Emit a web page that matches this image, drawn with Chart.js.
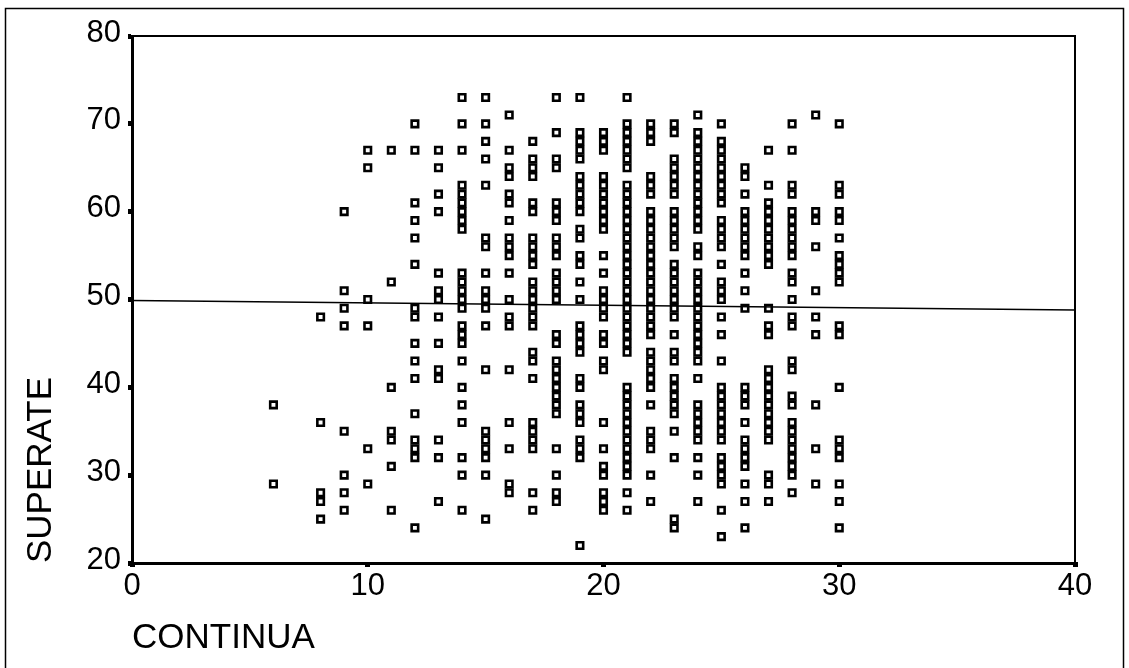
<!DOCTYPE html>
<html>
<head>
<meta charset="utf-8">
<script src="https://cdn.jsdelivr.net/npm/chart.js@4/dist/chart.umd.min.js"></script>
<style>
  html, body { margin: 0; padding: 0; background: #fff; }
  #wrap { width: 1129px; height: 668px; }
</style>
</head>
<body>
<div id="wrap"><canvas id="scatter" width="1129" height="668"></canvas></div>
<script>
// CONTINUA values present, and the SUPERATE scores seen at each one
const continua = [6, 8, 9, 10, 11, 12, 13, 14, 15, 16, 17, 18, 19, 20, 21, 22, 23, 24, 25, 26, 27, 28, 29, 30];
const superate = [
  [38, 29],
  [48, 36, 28, 27, 25],
  [60, 51, 49, 47, 35, 30, 28, 26],
  [67, 65, 50, 47, 33, 29],
  [67, 52, 40, 35, 34, 31, 26],
  [70, 67, 61, 59, 57, 54, 49, 48, 45, 43, 41, 37, 34, 33, 32, 24],
  [67, 65, 62, 60, 53, 51, 50, 48, 45, 42, 41, 34, 32, 27],
  [73, 70, 67, 63, 62, 61, 60, 59, 58, 53, 52, 51, 50, 49, 47, 46, 45, 43, 40, 38, 36, 32, 30, 26],
  [73, 70, 68, 66, 63, 57, 56, 53, 51, 50, 49, 47, 42, 35, 34, 33, 32, 30, 25],
  [71, 67, 65, 64, 62, 61, 59, 57, 56, 55, 53, 50, 48, 47, 42, 36, 33, 29, 28],
  [68, 66, 65, 64, 61, 60, 57, 56, 55, 54, 52, 51, 50, 49, 48, 47, 44, 43, 41, 36, 35, 34, 33, 28, 26],
  [73, 69, 66, 65, 61, 60, 59, 57, 56, 55, 53, 52, 51, 50, 46, 45, 43, 42, 41, 40, 39, 38, 37, 33, 30, 28, 27],
  [73, 69, 68, 67, 66, 64, 63, 62, 61, 60, 58, 57, 55, 54, 52, 50, 47, 46, 45, 44, 41, 40, 38, 37, 36, 34, 33, 32, 22],
  [69, 68, 67, 64, 63, 62, 61, 60, 59, 58, 55, 53, 51, 50, 49, 48, 46, 45, 43, 42, 36, 33, 31, 30, 28, 27, 26],
  [73, 70, 69, 68, 67, 66, 65, 63, 62, 61, 60, 59, 58, 57, 56, 55, 54, 53, 52, 51, 50, 49, 48, 47, 46, 45, 44, 40, 39, 38, 37, 36, 35, 34, 33, 32, 31, 30, 28, 26],
  [70, 69, 68, 64, 63, 62, 60, 59, 58, 57, 56, 55, 54, 53, 52, 51, 50, 49, 48, 47, 46, 44, 43, 42, 41, 40, 38, 35, 34, 33, 30, 27],
  [70, 69, 66, 65, 64, 63, 62, 60, 59, 58, 57, 56, 54, 53, 52, 51, 50, 49, 48, 46, 44, 43, 41, 40, 39, 38, 37, 35, 32, 25, 24],
  [71, 69, 68, 67, 66, 65, 64, 63, 62, 61, 60, 59, 58, 56, 55, 53, 52, 51, 50, 49, 48, 47, 46, 45, 44, 43, 41, 38, 37, 36, 35, 34, 32, 30, 27],
  [70, 68, 67, 66, 65, 64, 63, 62, 61, 59, 58, 57, 56, 54, 52, 51, 50, 48, 46, 43, 40, 39, 38, 37, 36, 35, 34, 32, 31, 30, 29, 26, 23],
  [65, 64, 62, 60, 59, 58, 57, 56, 55, 53, 51, 49, 40, 39, 38, 36, 34, 33, 32, 31, 29, 27, 24],
  [67, 63, 61, 60, 59, 58, 57, 56, 55, 54, 49, 47, 46, 42, 41, 40, 39, 38, 37, 36, 35, 34, 30, 29, 27],
  [70, 67, 63, 62, 60, 59, 58, 57, 56, 55, 53, 52, 50, 48, 47, 43, 42, 39, 38, 36, 35, 34, 33, 32, 31, 30, 28],
  [71, 60, 59, 56, 51, 48, 46, 38, 33, 29],
  [70, 63, 62, 60, 59, 57, 55, 54, 53, 52, 47, 46, 40, 34, 33, 32, 29, 27, 24]
];

// fitted line end points
const fitX = [0, 40];
const fitY = [49.9, 48.8];

const points = [];
continua.forEach((cx, i) => {
  superate[i].forEach(v => points.push({ x: cx, y: v }));
});
const fitLine = fitX.map((fx, i) => ({ x: fx, y: fitY[i] }));

const FONT = '"Liberation Sans", Arial, Helvetica, sans-serif';

// box around the plot area plus the outer page frame
const frames = {
  id: 'frames',
  beforeDraw(chart) {
    const c = chart.ctx;
    c.save();
    c.strokeStyle = '#000';
    c.lineWidth = 1.5;
    c.strokeRect(5.5, 8.5, 1118, 670);
    c.restore();
  },
  afterDatasetsDraw(chart) {
    const a = chart.chartArea;
    const c = chart.ctx;
    c.save();
    c.strokeStyle = '#000';
    c.lineWidth = 2;
    c.beginPath();
    c.moveTo(a.left, a.top);
    c.lineTo(a.right, a.top);
    c.lineTo(a.right, a.bottom);
    c.stroke();
    c.restore();
  }
};

new Chart(document.getElementById('scatter'), {
  type: 'scatter',
  data: {
    datasets: [
      {
        type: 'line',
        data: fitLine,
        borderColor: '#000',
        borderWidth: 1.5,
        pointRadius: 0,
        fill: false
      },
      {
        data: points,
        pointStyle: 'rect',
        pointRadius: 4.6,
        borderWidth: 2.6,
        borderColor: '#000',
        backgroundColor: '#fff'
      }
    ]
  },
  options: {
    responsive: false,
    animation: false,
    layout: { padding: { top: 36, right: 54, left: 0, bottom: 0 } },
    plugins: { legend: { display: false }, tooltip: { enabled: false } },
    scales: {
      x: {
        type: 'linear',
        min: 0, max: 40,
        afterFit: s => { s.height = 105; },
        ticks: { stepSize: 10, color: '#000', padding: 1, font: { family: FONT, size: 31 } },
        grid: { drawOnChartArea: false, drawTicks: true, tickLength: 4, lineWidth: 5, color: '#000' },
        border: { display: true, color: '#000', width: 3 },
        title: {
          display: true, text: 'CONTINUA', align: 'start', color: '#000',
          font: { family: FONT, size: 35 }, padding: { top: 0, bottom: 9 }
        }
      },
      y: {
        type: 'linear',
        min: 20, max: 80,
        afterFit: s => { s.width = 132; },
        ticks: { stepSize: 10, color: '#000', padding: 7, labelOffset: -3, font: { family: FONT, size: 31 } },
        grid: { drawOnChartArea: false, drawTicks: true, tickLength: 4, lineWidth: 5, color: '#000' },
        border: { display: true, color: '#000', width: 3 },
        title: {
          display: true, text: 'SUPERATE', align: 'start', color: '#000',
          font: { family: FONT, size: 35 }, padding: { top: 20, bottom: 0 }
        }
      }
    }
  },
  plugins: [frames]
});
</script>
</body>
</html>
